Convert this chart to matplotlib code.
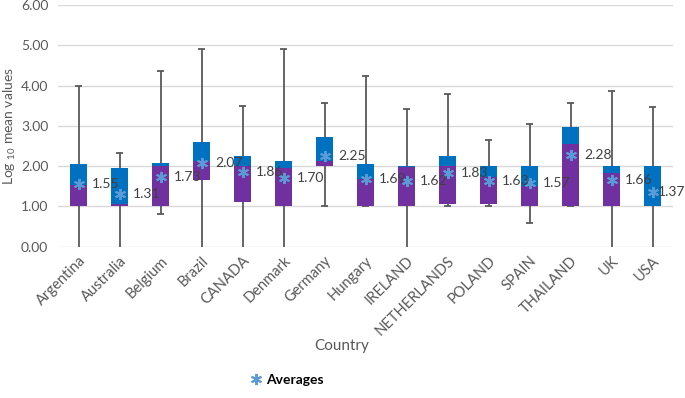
import matplotlib
matplotlib.use("Agg")
import matplotlib.pyplot as plt
from matplotlib.lines import Line2D

plt.rcParams['font.family'] = ['Lato', 'DejaVu Sans']
plt.rcParams['mathtext.default'] = 'regular'

countries = ["Argentina", "Australia", "Belgium", "Brazil", "CANADA", "Denmark",
             "Germany", "Hungary", "IRELAND", "NETHERLANDS", "POLAND", "SPAIN",
             "THAILAND", "UK", "USA"]
mins    = [0.00, 0.00, 0.80, 0.00, 0.00, 0.00, 1.00, 1.00, 0.00, 1.00, 1.00, 0.60, 1.00, 0.00, 0.00]
q1      = [1.00, 1.00, 1.00, 1.66, 1.10, 1.00, 2.00, 1.00, 1.00, 1.06, 1.06, 1.00, 1.00, 1.00, 1.00]
medians = [1.53, 1.06, 2.00, 2.13, 2.01, 1.95, 2.13, 1.69, 1.98, 2.01, 1.72, 1.51, 2.54, 1.82, 1.00]
q3      = [2.05, 1.95, 2.09, 2.59, 2.26, 2.13, 2.72, 2.06, 2.00, 2.24, 2.00, 2.00, 2.97, 2.00, 2.00]
maxs    = [3.98, 2.33, 4.35, 4.90, 3.50, 4.90, 3.56, 4.24, 3.43, 3.78, 2.65, 3.04, 3.57, 3.87, 3.47]
means   = [1.55, 1.31, 1.73, 2.07, 1.86, 1.70, 2.25, 1.69, 1.62, 1.83, 1.63, 1.57, 2.28, 1.66, 1.37]

BLUE = "#0070C0"
PURPLE = "#7030A0"
WHISK = "#595959"
MEANC = "#5B9BD5"
TXT = "#595959"

fig = plt.figure(figsize=(6.85, 3.98), dpi=100)
ax = fig.add_axes([58/685, 1-246.7/398, (673-58)/685, (246.7-5)/398])

x = list(range(len(countries)))
w = 0.42
cap = 0.17

for i in x:
    ax.vlines(i, mins[i], q1[i], color=WHISK, lw=1.3, zorder=2)
    ax.vlines(i, q3[i], maxs[i], color=WHISK, lw=1.3, zorder=2)
    ax.hlines(maxs[i], i - cap/2, i + cap/2, color=WHISK, lw=1.3, zorder=2)
    if mins[i] > 0:
        ax.hlines(mins[i], i - cap/2, i + cap/2, color=WHISK, lw=1.3, zorder=2)

ax.bar(x, [m - a for m, a in zip(medians, q1)], bottom=q1, width=w, color=PURPLE, zorder=3)
ax.bar(x, [b - m for b, m in zip(q3, medians)], bottom=medians, width=w, color=BLUE, zorder=3)

ax.plot(x, means, linestyle='none', marker=(6, 2, 0), markersize=8, color=MEANC,
        markeredgewidth=1.4, zorder=4)
for i in x:
    off = 0.33 if i < len(countries) - 1 else 0.12
    ax.text(i + off, means[i], f"{means[i]:.2f}", fontsize=10, color="#404040",
            va='center', ha='left', zorder=5, clip_on=False)

ax.set_xlim(-0.5, len(countries) - 0.5)
ax.set_ylim(0, 6)
ax.set_yticks([0, 1, 2, 3, 4, 5, 6])
ax.set_yticklabels([f"{v:.2f}" for v in [0, 1, 2, 3, 4, 5, 6]], fontsize=10, color=TXT)
ax.set_xticks(x)
ax.set_xticklabels(countries, rotation=45, ha='right', rotation_mode='anchor',
                   fontsize=10.5, color=TXT)
ax.tick_params(axis='both', length=0)
ax.tick_params(axis='y', pad=7)
ax.tick_params(axis='x', pad=5)
ax.grid(axis='y', color="#D9D9D9", lw=1)
ax.set_axisbelow(True)
for s in ax.spines.values():
    s.set_visible(False)

ax.set_ylabel("Log $_{10}$ mean values", fontsize=10, color=TXT, labelpad=2)
fig.text(342/685, 1-346/398, "Country", fontsize=11, color=TXT, ha='center', va='center')

h = Line2D([], [], linestyle='none', marker=(6, 2, 0), markersize=8, color=MEANC,
           markeredgewidth=1.4)
fig.legend([h], ["Averages"], loc='center', bbox_to_anchor=(287/685, 1-380/398),
           frameon=False, prop={'weight': 'bold', 'size': 10}, handlelength=0.8,
           handletextpad=0.3)

fig.savefig("out.png", dpi=100)
